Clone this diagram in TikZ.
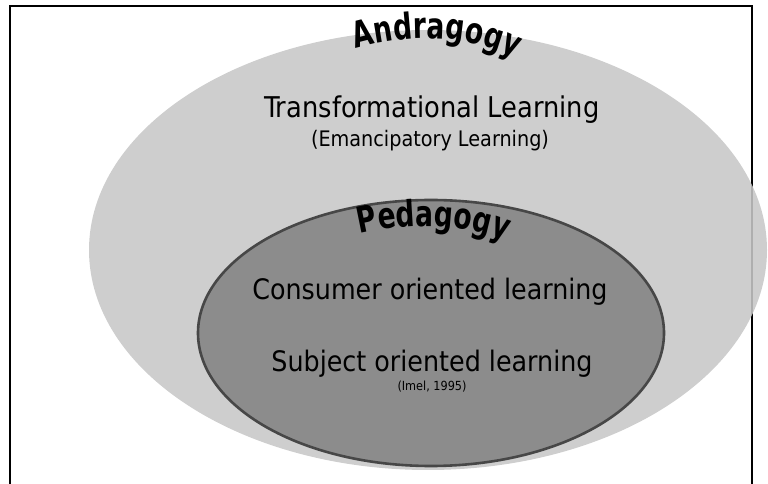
\documentclass[tikz,border=0pt]{standalone}
\usepackage{fontspec}
\setmainfont{DejaVu Sans Condensed}
\newfontfamily\archfont{DejaVu Sans Condensed}[FakeStretch=0.82]
\usetikzlibrary{shapes.geometric,decorations.text}
\newcommand{\wfit}[2]{\resizebox{#1}{!}{#2}}
\begin{document}
\begin{tikzpicture}[x=1pt,y=1pt,
  frameline/.style={line width=1.8pt, black},
  outerell/.style={ellipse, fill=black!22, fill opacity=0.88, draw=none, inner sep=0pt},
  innerell/.style={ellipse, fill=black!45, draw=black!72, line width=2.6pt, inner sep=0pt},
  lbl/.style={inner sep=0pt, text=black, anchor=base},
  arch/.style={decorate, decoration={text along path, text align=center, text={#1}}}]
\useasboundingbox (0,0) rectangle (768,484);
\coordinate (fbl) at (10,0);
\coordinate (ftl) at (10,478);
\coordinate (ftr) at (752,478);
\coordinate (fbr) at (752,0);
\draw[frameline] (fbl) -- (ftl) -- (ftr) -- (fbr);
\node[outerell, minimum width=678, minimum height=440] (andra) at (428,234) {};
\node[innerell, minimum width=466, minimum height=266] (peda) at (431,151) {};
\path[arch={|\archfont\fontsize{36}{36}\selectfont\bfseries|Andragogy}]
  (348,433) .. controls (400,451) and (470,452) .. (522,422);
\path[arch={|\archfont\fontsize{36}{36}\selectfont\bfseries|Pedagogy}]
  (348,247) .. controls (400,263) and (470,262) .. (517,238);
\node[lbl] (trans) at (432,366) {\wfit{335pt}{Transformational Learning}};
\node[lbl] (eman) at (430,337) {\wfit{238pt}{(Emancipatory Learning)}};
\node[lbl] (cons) at (430,184) {\wfit{355pt}{Consumer oriented learning}};
\node[lbl] (subj) at (432,112) {\wfit{321pt}{Subject oriented learning}};
\node[lbl] (imel) at (432,93) {\wfit{69pt}{(Imel, 1995)}};
\end{tikzpicture}
\end{document}
